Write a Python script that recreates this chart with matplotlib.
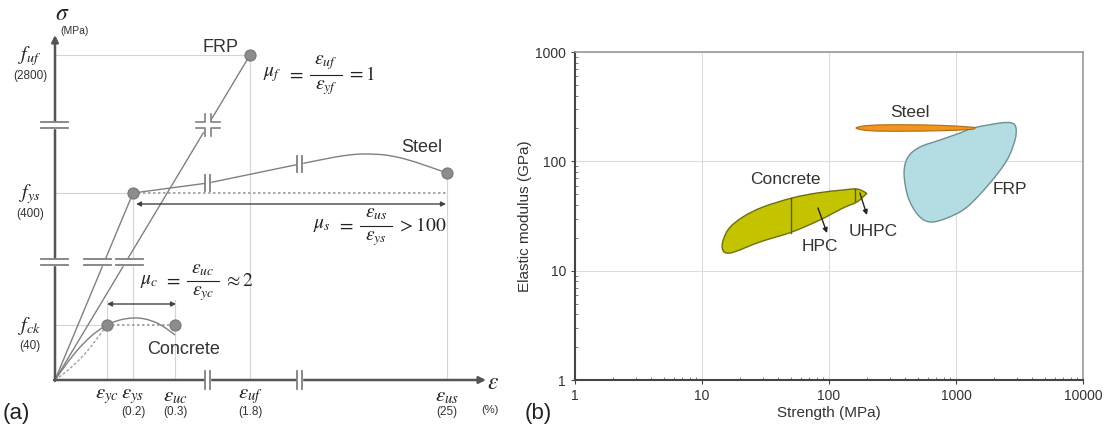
import numpy as np
import matplotlib.pyplot as plt
from matplotlib.path import Path
from matplotlib.patches import PathPatch, Rectangle

plt.rcParams['font.family'] = ['Liberation Sans', 'DejaVu Sans']
plt.rcParams['mathtext.fontset'] = 'stix'

# ---------------- panel (a): schematic stress-strain (schematic units) ----------------
strain_names = [r'\varepsilon_{yc}', r'\varepsilon_{ys}', r'\varepsilon_{uc}', r'\varepsilon_{uf}', r'\varepsilon_{us}']
strain_pos = [52, 78, 120, 195, 392]
strain_vals = ['', '(0.2)', '(0.3)', '(1.8)', '(25)']

stress_names = [r'f_{ck}', r'f_{ys}', r'f_{uf}']
stress_pos = [55, 187, 325]
stress_vals = ['(40)', '(400)', '(2800)']

# curves
frp_x = [0, 195]
frp_y = [0, 325]
steel_el_x = [0, 78]
steel_el_y = [0, 187]
steel_x = [78, 153, 245]
steel_y = [187, 197, 216]
steel_top_x = [245, 270, 290, 308, 330, 350, 372, 392]
steel_top_y = [216, 221, 224.5, 226, 225, 221, 214, 207]
conc_x = [0, 10, 20, 30, 40, 52, 65, 78, 90, 102, 112, 120]
conc_y = [0, 14, 27, 38, 47, 55, 60, 62, 61, 57, 51, 45]
conc_dash_x = [0, 12, 25, 38, 52]
conc_dash_y = [0, 9, 21, 36, 55]

# ductility ratios: (lhs, numerator, denominator, rhs)
ratios = [(r'\mu_f', r'\varepsilon_{uf}', r'\varepsilon_{yf}', r'=1'),
          (r'\mu_s', r'\varepsilon_{us}', r'\varepsilon_{ys}', r'>100'),
          (r'\mu_c', r'\varepsilon_{uc}', r'\varepsilon_{yc}', r'\approx 2')]

# ---------------- panel (b): modulus vs strength outlines ----------------
conc_s = [14.4, 16.6, 28.6, 51.1, 85.0, 128.9, 166, 192, 196, 166, 129, 80.4, 51.1, 30.2, 21.0, 16.0]
conc_e = [16.5, 14.5, 18.3, 22.6, 29.1, 37.4, 42.5, 49.2, 51.3, 55.8, 54.7, 51.3, 46.2, 38.2, 31.0, 23.6]
frp_s = [1361, 2221, 2760, 2968, 2914, 2521, 1852, 1221, 849, 624, 502, 419, 390, 419, 521, 748, 1075]
frp_e = [201.8, 224, 224, 201.8, 156.7, 102.8, 63.4, 38.2, 30.3, 27.9, 32.3, 47.2, 78.2, 109.6, 135.2, 156.7, 181.6]
steel_s = [163, 210, 362, 748, 1289, 1411, 1289, 748, 362, 210]
steel_e = [201.8, 213.5, 216, 213.5, 206, 201.8, 195.6, 190.5, 188.5, 190.5]
hpc_s, hpc_e = [50.2, 50.2], [22.1, 46.2]
uhpc_s, uhpc_e = [160, 160], [43.3, 55.8]

AX = '#555555'
LN = '#808080'
GR = '#d4d4d4'


def smooth_path(xs, ys, closed=True, log=False):
    pts = np.column_stack([xs, ys]).astype(float)
    if log:
        pts = np.log10(pts)
    n = len(pts)
    verts = [pts[0]]
    codes = [Path.MOVETO]
    segs = n if closed else n - 1
    for i in range(segs):
        if closed:
            p0, p1, p2, p3 = pts[i - 1], pts[i], pts[(i + 1) % n], pts[(i + 2) % n]
        else:
            p0, p1 = pts[max(i - 1, 0)], pts[i]
            p2, p3 = pts[i + 1], pts[min(i + 2, n - 1)]
        verts += [p1 + (p2 - p0) / 6, p2 - (p3 - p1) / 6, p2]
        codes += [Path.CURVE4] * 3
    verts = np.array(verts)
    if log:
        verts = 10 ** verts
    return Path(verts, codes)


fig = plt.figure(figsize=(11.08, 4.32), dpi=100)

ax = fig.add_axes([0, 0, 500 / 1108, 1])
ax.set_xlim(-55, 445)
ax.set_ylim(-52, 380)
ax.axis('off')

# axes arrows
ax.annotate('', xy=(431, 0), xytext=(-1, 0),
            arrowprops=dict(arrowstyle='-|>', color=AX, lw=1.8, mutation_scale=10, shrinkA=0, shrinkB=0))
ax.annotate('', xy=(0, 345), xytext=(0, -1),
            arrowprops=dict(arrowstyle='-|>', color=AX, lw=1.8, mutation_scale=10, shrinkA=0, shrinkB=0))

# guide lines
ax.plot([0, frp_x[1]], [stress_pos[2]] * 2, color=GR, lw=0.8, zorder=1)
ax.plot([0, steel_el_x[1]], [stress_pos[1]] * 2, color=GR, lw=0.8, zorder=1)
ax.plot([0, conc_x[5]], [stress_pos[0]] * 2, color=GR, lw=0.8, zorder=1)
ax.plot([strain_pos[0]] * 2, [0, 80], color=GR, lw=0.8, zorder=1)
ax.plot([strain_pos[1]] * 2, [0, stress_pos[1]], color=GR, lw=0.8, zorder=1)
ax.plot([strain_pos[2]] * 2, [0, 80], color=GR, lw=0.8, zorder=1)
ax.plot([strain_pos[3]] * 2, [0, stress_pos[2]], color=GR, lw=0.8, zorder=1)
ax.plot([strain_pos[4]] * 2, [0, steel_top_y[-1]], color=GR, lw=0.8, zorder=1)
ax.plot([steel_el_x[1], steel_top_x[-1]], [stress_pos[1]] * 2, color='#9a9a9a', lw=1.2, ls=(0, (1.5, 1.5)), zorder=1)
ax.plot([conc_x[5], conc_x[-1]], [stress_pos[0]] * 2, color='#9a9a9a', lw=1.2, ls=(0, (1.5, 1.5)), zorder=1)

# curves
ax.plot(frp_x, frp_y, color=LN, lw=1.0, zorder=2)
ax.plot(steel_el_x, steel_el_y, color=LN, lw=1.0, zorder=2)
ax.plot(steel_x, steel_y, color=LN, lw=1.0, zorder=2)
ax.add_patch(PathPatch(smooth_path(steel_top_x, steel_top_y, closed=False), fill=False, ec=LN, lw=1.0, zorder=2))
ax.add_patch(PathPatch(smooth_path(conc_x, conc_y, closed=False), fill=False, ec=LN, lw=1.0, zorder=2))
ax.add_patch(PathPatch(smooth_path(conc_dash_x, conc_dash_y, closed=False), fill=False, ec='#a0a0a0',
                       lw=1.0, ls=(0, (2, 1.5)), zorder=2))

# end points
ax.plot([frp_x[1], steel_el_x[1], steel_top_x[-1], conc_x[5], conc_x[-1]],
        [frp_y[1], steel_el_y[1], steel_top_y[-1], stress_pos[0], stress_pos[0]],
        ls='none', marker='o', ms=8, mfc='#8c8c8c', mec='#777777', mew=0.8, zorder=5)


def hbreak(xc, yc, w):
    ax.add_patch(Rectangle((xc - w / 2, yc - 3), w, 6, color='white', zorder=3))
    for dy in (-3, 3):
        ax.plot([xc - w / 2, xc + w / 2], [yc + dy, yc + dy], color=LN, lw=1.3, zorder=4)


def vbreak(xc, yc, h):
    ax.add_patch(Rectangle((xc - 2.5, yc - h / 2), 5, h, color='white', zorder=3))
    for dx in (-2.5, 2.5):
        ax.plot([xc + dx, xc + dx], [yc - h / 2, yc + h / 2], color=LN, lw=1.3, zorder=4)


hbreak(0, 255, 27)
hbreak(0, 118, 27)
hbreak(43, 118, 27)
hbreak(75, 118, 27)
vbreak(153, 0, 18)
vbreak(245, 0, 18)
vbreak(153, 197, 16)
vbreak(245, 216, 16)
ax.add_patch(Rectangle((147, 249), 12, 12, color='white', zorder=3))
for sx in (-1, 1):
    for sy in (-1, 1):
        ax.plot([153 + sx * 12, 153 + sx * 3, 153 + sx * 3],
                [255 + sy * 3, 255 + sy * 3, 255 + sy * 11], color=LN, lw=1.2, zorder=4)

# double arrows
ax.annotate('', xy=(conc_x[-1] + 1, 76), xytext=(conc_x[5], 76),
            arrowprops=dict(arrowstyle='<|-|>', color='#444444', lw=1.0, mutation_scale=7, shrinkA=0, shrinkB=0))
ax.annotate('', xy=(steel_top_x[-1] - 1, 176), xytext=(steel_el_x[1] + 3, 176),
            arrowprops=dict(arrowstyle='<|-|>', color='#444444', lw=1.0, mutation_scale=7, shrinkA=0, shrinkB=0))

# tick labels
for name, pos, val in zip(strain_names, strain_pos, strain_vals):
    ax.text(pos, -16, '$' + name + '$', ha='center', va='center', fontsize=15, color='#222222')
    ax.text(pos, -32, val, ha='center', va='center', fontsize=8.5, color='#333333')
for name, pos, val in zip(stress_names, stress_pos, stress_vals):
    ax.text(-25, pos - 1, '$' + name + '$', ha='center', va='center', fontsize=14.5, color='#222222')
    ax.text(-25, pos - 21, val, ha='center', va='center', fontsize=8.5, color='#333333')

ax.text(7, 366, r'$\sigma$', ha='center', va='center', fontsize=17, color='#222222')
ax.text(5, 349, '(MPa)', ha='left', va='center', fontsize=7.5, color='#333333')
ax.text(438, -3, r'$\varepsilon$', ha='center', va='center', fontsize=17, color='#222222')
ax.text(435, -30, '(%)', ha='center', va='center', fontsize=8, color='#333333')
ax.text(-52, -33, '(a)', ha='left', va='center', fontsize=16, color='#222222')

ax.text(166, 332, 'FRP', ha='center', va='center', fontsize=13, color='#333333')
ax.text(367, 233, 'Steel', ha='center', va='center', fontsize=13, color='#333333')
ax.text(129, 30, 'Concrete', ha='center', va='center', fontsize=13, color='#333333')

# ductility equations built as stacked fractions
eq_pos = [(208, 305), (258, 154), (85, 99)]
for (lhs, num, den, rhs), (x0, y0) in zip(ratios, eq_pos):
    kw = dict(va='center', fontsize=14, color='#222222')
    ax.text(x0, y0, '$' + lhs + '$', ha='left', **kw)
    ax.text(x0 + 33, y0, '$=$', ha='center', **kw)
    ax.plot([x0 + 47, x0 + 79], [y0, y0], color='#222222', lw=0.8)
    ax.text(x0 + 63, y0 + 12, '$' + num + '$', ha='center', **kw)
    ax.text(x0 + 63, y0 - 13, '$' + den + '$', ha='center', **kw)
    ax.text(x0 + 84, y0, '$' + rhs + '$', ha='left', **kw)

# ---------------- panel (b) ----------------
bx = fig.add_axes([575 / 1108, 52 / 432, 508 / 1108, 328 / 432])
bx.set_xscale('log')
bx.set_yscale('log')
bx.set_xlim(1, 10000)
bx.set_ylim(1, 1000)

bx.add_patch(PathPatch(smooth_path(conc_s, conc_e, log=True), fc='#c3c300', ec='#6e6e10', lw=1.0, zorder=3))
bx.add_patch(PathPatch(smooth_path(frp_s, frp_e, log=True), fc='#b3dde2', ec='#6f8f93', lw=1.0, zorder=3))
bx.add_patch(PathPatch(smooth_path(steel_s, steel_e, log=True), fc='#f0961e', ec='#b06a10', lw=0.8, zorder=4))
bx.plot(hpc_s, hpc_e, color='#5a5a10', lw=1.0, zorder=4)
bx.plot(uhpc_s, uhpc_e, color='#5a5a10', lw=1.0, zorder=4)

bx.annotate('', xy=(96.5, 22.1), xytext=(81.9, 37.4),
            arrowprops=dict(arrowstyle='-|>', color='#222222', lw=1.0, mutation_scale=7, shrinkA=0, shrinkB=0),
            zorder=5)
bx.annotate('', xy=(199, 32.3), xytext=(175, 51.3),
            arrowprops=dict(arrowstyle='-|>', color='#222222', lw=1.0, mutation_scale=7, shrinkA=0, shrinkB=0),
            zorder=5)

bx.text(45, 67.5, 'Concrete', ha='center', va='center', fontsize=12.5, color='#333333')
bx.text(85, 16.5, 'HPC', ha='center', va='center', fontsize=12.5, color='#333333')
bx.text(222, 22.6, 'UHPC', ha='center', va='center', fontsize=12.5, color='#333333')
bx.text(434, 277, 'Steel', ha='center', va='center', fontsize=12.5, color='#333333')
bx.text(2662, 55.8, 'FRP', ha='center', va='center', fontsize=12.5, color='#333333')

bx.set_xticks([1, 10, 100, 1000, 10000], labels=['1', '10', '100', '1000', '10000'])
bx.set_yticks([1, 10, 100, 1000], labels=['1', '10', '100', '1000'])
bx.grid(True, which='major', color='#dcdcdc', lw=0.8, zorder=0)
bx.tick_params(which='major', direction='out', length=3, color='#444444', labelsize=10, labelcolor='#333333')
bx.tick_params(which='minor', direction='in', length=2.5, color='#666666')
for side in ('left', 'bottom'):
    bx.spines[side].set_color('#444444')
    bx.spines[side].set_linewidth(1.5)
for side in ('top', 'right'):
    bx.spines[side].set_color('#9a9a9a')
    bx.spines[side].set_linewidth(1.2)

bx.set_xlabel('Strength (MPa)', fontsize=11, color='#333333')
bx.set_ylabel('Elastic modulus (GPa)', fontsize=11, color='#333333')
bx.xaxis.set_label_coords(0.5, -0.08)
bx.yaxis.set_label_coords(-0.085, 0.5)
fig.text(525 / 1108, 1 - 413 / 432, '(b)', ha='left', va='center', fontsize=16, color='#222222')

fig.savefig('out.png', dpi=100)
